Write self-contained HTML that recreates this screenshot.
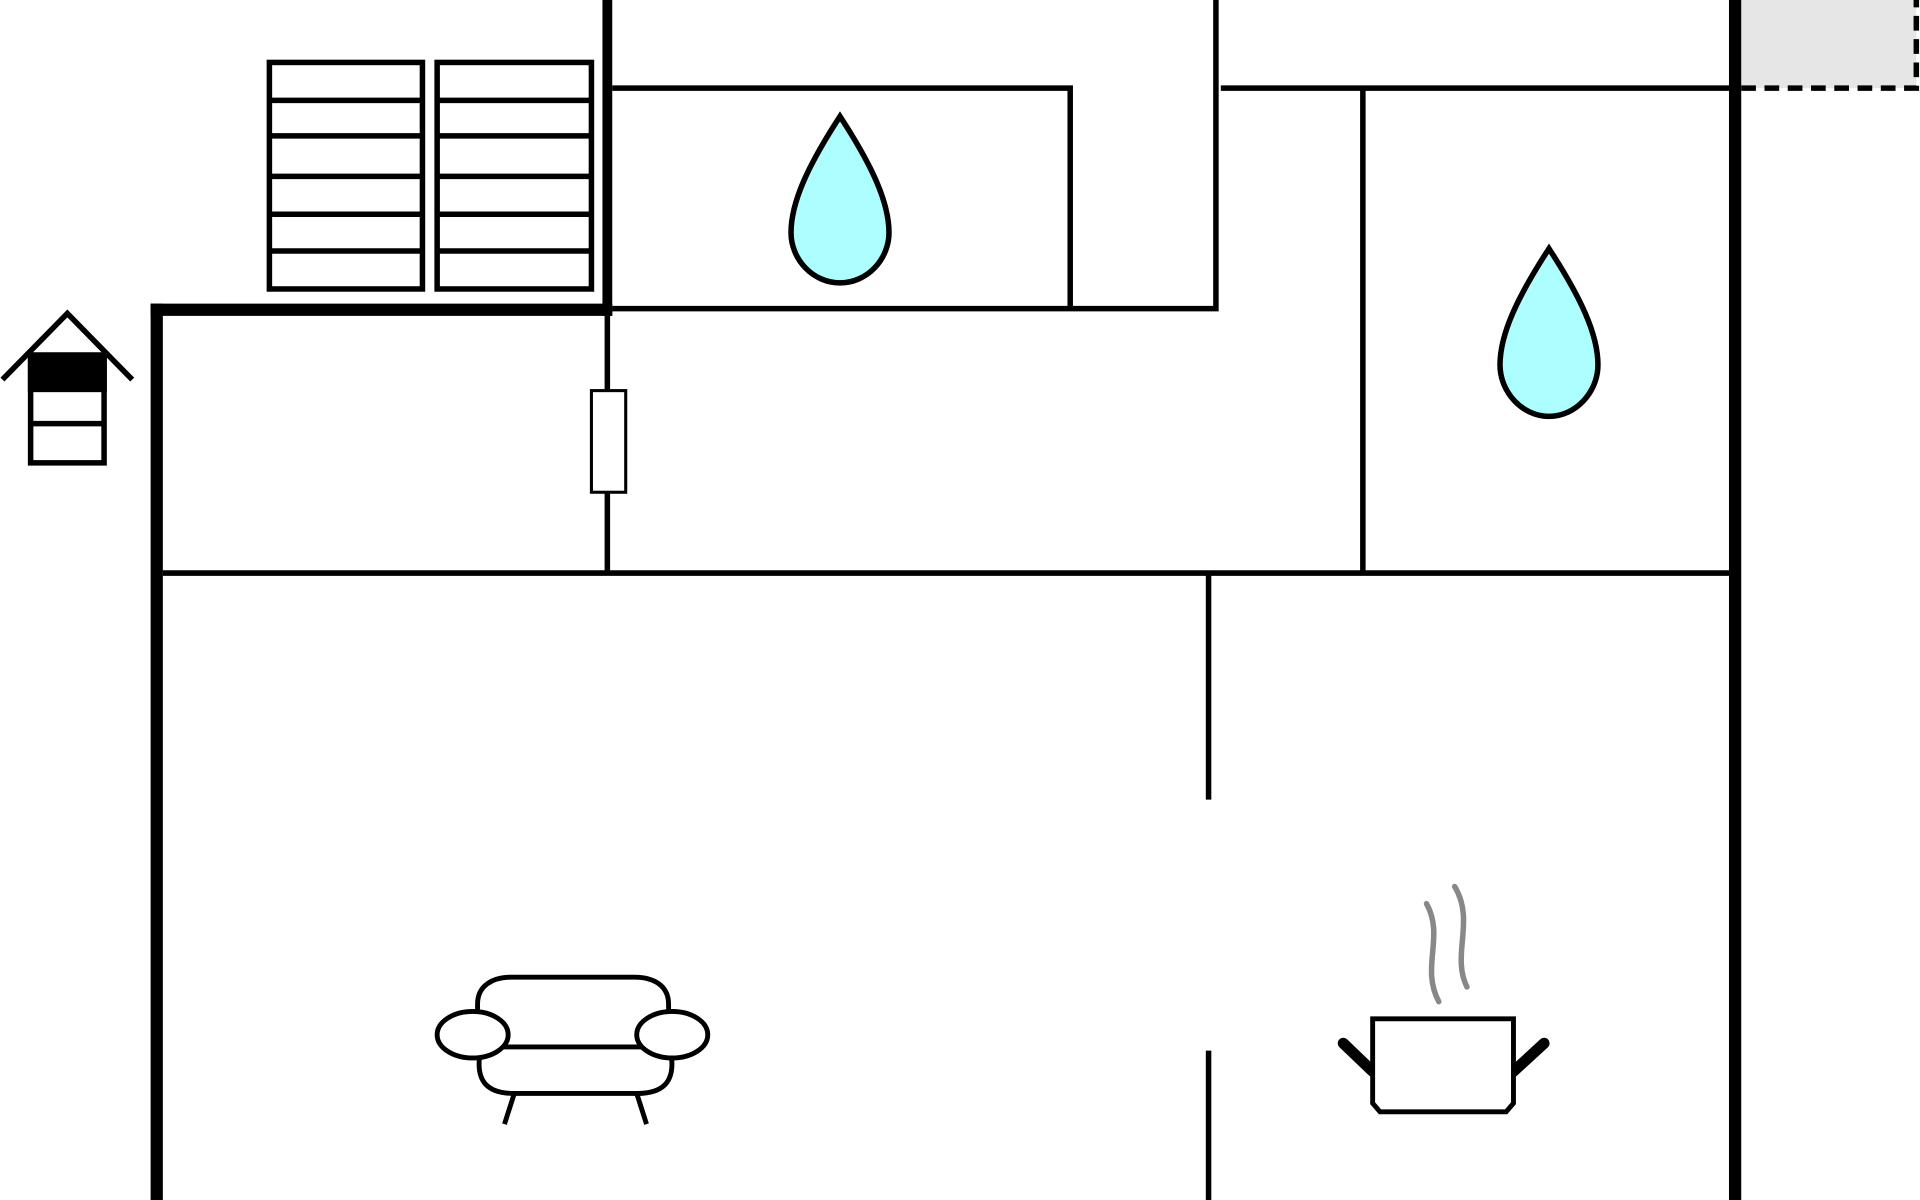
<!DOCTYPE html>
<html><head><style>html,body{margin:0;padding:0;background:#fff}svg{display:block}</style></head>
<body>
<svg width="1920" height="1200" viewBox="0 0 1568 980" xmlns="http://www.w3.org/2000/svg">
<rect width="1568" height="980" fill="#fff"/>
<rect x="1422" y="0" width="143" height="72" fill="#e6e6e6"/>
<path d="M1422 72 H1565 V0" fill="none" stroke="#000" stroke-width="4.5" stroke-dasharray="12,7"/>
<g stroke="#000" stroke-width="4.5" fill="none">
<path d="M993 0 V252 H500"/>
<path d="M500 72 H874 V252"/>
<path d="M997 72 H1417"/>
<path d="M1113 72 V468"/>
<path d="M133 468 H1412"/>
<path d="M496 258 V319 M496 402 V468"/>
<path d="M987 468 V653 M987 858 V980"/>
</g>
<rect x="483" y="319" width="28" height="83" fill="#fff" stroke="#000" stroke-width="2.5"/>
<g stroke="#000" fill="none">
<path d="M496 0 V258" stroke-width="8"/>
<path d="M123 253 H500" stroke-width="10"/>
<path d="M128 248 V980" stroke-width="10"/>
<path d="M1417 0 V980" stroke-width="10"/>
</g>
<g stroke="#000" stroke-width="4.5" fill="#fff">
<rect x="220" y="51" width="125" height="185"/>
<rect x="357" y="51" width="126" height="185"/>
<path d="M220 82H345M220 111H345M220 144H345M220 175H345M220 205H345M357 82H483M357 111H483M357 144H483M357 175H483M357 205H483"/>
</g>
<g stroke="#000" stroke-width="4.5" fill="none">
<path d="M2 310 L55 256 L108 310"/>
<rect x="25" y="290" width="60" height="88" fill="#fff"/>
<rect x="25" y="290" width="60" height="28" fill="#000"/>
<path d="M25 346 H85"/>
</g>
<path d="M686 95 C660 135 646 165 646 190 C646 212 664 231 686 231 C708 231 726 212 726 190 C726 165 712 135 686 95 Z" fill="#adfeff" stroke="#000" stroke-width="4.5"/>
<path d="M1265 203 C1239 243 1225 273 1225 298 C1225 320 1243 340 1265 340 C1287 340 1305 320 1305 298 C1305 273 1291 243 1265 203 Z" fill="#adfeff" stroke="#000" stroke-width="4.5"/>
<g stroke="#000" stroke-width="4" fill="#fff">
<path d="M390 835 V820 C390 805 402 798 418 798 H518 C534 798 546 805 546 820 V835"/>
<path d="M412 918 L420 893 M528 918 L520 893" fill="none"/>
<path d="M392 860 C388 885 400 893 420 893 H520 C540 893 552 885 548 860"/>
<path d="M410 855 H525" fill="none"/>
<ellipse cx="386" cy="845" rx="29" ry="19"/>
<ellipse cx="549" cy="845" rx="29" ry="19"/>
</g>
<g fill="none">
<path d="M1175 818 C1160 790 1180 765 1165 738" stroke="#888" stroke-width="4.5" stroke-linecap="round"/>
<path d="M1198 806 C1185 780 1205 752 1188 724" stroke="#888" stroke-width="4.5" stroke-linecap="round"/>
<path d="M1121 875 L1097 852" stroke="#000" stroke-width="9" stroke-linecap="round"/>
<path d="M1236 875 L1261 852" stroke="#000" stroke-width="9" stroke-linecap="round"/>
<path d="M1121 832 H1236 V901 L1230 908 H1127 L1121 901 Z" stroke="#000" stroke-width="4" fill="#fff"/>
</g>
</svg>
</body></html>
